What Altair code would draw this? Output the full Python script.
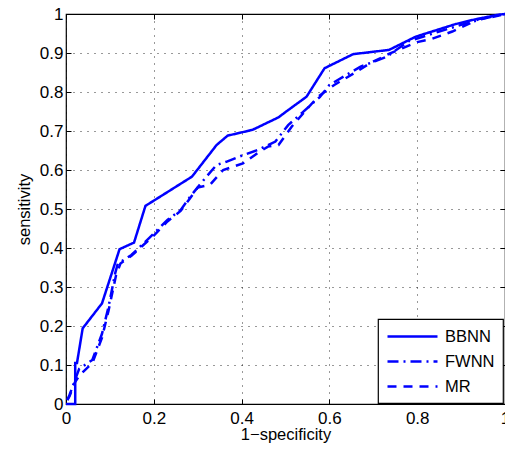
import altair as alt
import pandas as pd

series = ["BBNN", "FWNN", "MR"]

bbnn_x = [0, 0.021, 0.021, 0.025, 0.038, 0.082, 0.122, 0.155, 0.181, 0.239, 0.287, 0.343,
          0.368, 0.425, 0.484, 0.503, 0.548, 0.589, 0.654, 0.736, 0.797, 0.887, 0.931, 0.984, 1.0]
bbnn_y = [0, 0, 0.105, 0.105, 0.194, 0.258, 0.397, 0.414, 0.508, 0.549, 0.583, 0.664,
          0.688, 0.703, 0.735, 0.751, 0.788, 0.861, 0.897, 0.908, 0.942, 0.974, 0.986, 0.998, 1.0]

fwnn_x = [0.003, 0.008, 0.02, 0.03, 0.06, 0.082, 0.097, 0.112, 0.118, 0.149, 0.2, 0.231, 0.261,
          0.283, 0.317, 0.343, 0.365, 0.403, 0.436, 0.477, 0.506, 0.537, 0.578, 0.6, 0.671,
          0.73, 0.78, 0.85, 0.9, 0.95, 1.0]
fwnn_y = [0.01, 0.023, 0.06, 0.09, 0.113, 0.18, 0.25, 0.335, 0.36, 0.382, 0.437, 0.472, 0.497,
          0.532, 0.579, 0.613, 0.621, 0.638, 0.651, 0.673, 0.715, 0.746, 0.787, 0.818, 0.865,
          0.89, 0.93, 0.955, 0.972, 0.988, 1.0]

mr_x = [0.003, 0.008, 0.02, 0.032, 0.06, 0.082, 0.097, 0.114, 0.124, 0.149, 0.2, 0.231, 0.261,
        0.283, 0.3, 0.328, 0.358, 0.403, 0.436, 0.46, 0.484, 0.514, 0.544, 0.574, 0.611, 0.656,
        0.693, 0.738, 0.8, 0.83, 0.88, 0.94, 0.97, 1.0]
mr_y = [0.01, 0.02, 0.055, 0.075, 0.105, 0.17, 0.24, 0.33, 0.36, 0.38, 0.432, 0.468, 0.495,
        0.528, 0.555, 0.562, 0.6, 0.617, 0.643, 0.66, 0.664, 0.711, 0.75, 0.788, 0.818, 0.848,
        0.874, 0.899, 0.928, 0.935, 0.955, 0.987, 0.992, 1.0]

x_ticks = [0, 0.2, 0.4, 0.6, 0.8, 1.0]
y_ticks = [0, 0.1, 0.2, 0.3, 0.4, 0.5, 0.6, 0.7, 0.8, 0.9, 1.0]

rows = []
for name, xs, ys in [("BBNN", bbnn_x, bbnn_y), ("FWNN", fwnn_x, fwnn_y), ("MR", mr_x, mr_y)]:
    for i, (xv, yv) in enumerate(zip(xs, ys)):
        rows.append({"series": name, "fpr": xv, "tpr": yv, "order": i})
df = pd.DataFrame(rows)

FONT = "Liberation Sans"
xscale = alt.Scale(domain=[0, 1], nice=False, zero=False)
yscale = alt.Scale(domain=[0, 1], nice=False, zero=False)

leg = alt.Legend(
    title=None, orient="none", legendX=312, legendY=305,
    symbolType="M-1,0H5.25", symbolSize=256, symbolStrokeWidth=2.5,
    labelFont=FONT, labelFontSize=16.5, labelColor="black", labelOffset=40,
    strokeColor="black", fillColor="white", padding=8, rowPadding=7,
)

lines = alt.Chart(df).mark_line(strokeWidth=2.5).encode(
    x=alt.X("fpr:Q", scale=xscale, axis=alt.Axis(
        orient="bottom", values=x_ticks, format=".1~f", title="1\u2212specificity",
        offset=-5, tickSize=5, labelPadding=6, titlePadding=0, grid=True, domain=False,
        labelFlush=False)),
    y=alt.Y("tpr:Q", scale=yscale, axis=alt.Axis(
        orient="left", values=y_ticks, format=".1~f", title="sensitivity",
        offset=-5, tickSize=5, labelPadding=3, titlePadding=7, grid=True, domain=False,
        labelFlush=False)),
    color=alt.Color("series:N", scale=alt.Scale(domain=series, range=["#0000ff"] * 3), legend=leg),
    strokeDash=alt.StrokeDash("series:N", scale=alt.Scale(
        domain=series, range=[[1, 0], [11, 5, 2, 5], [9, 7]]), legend=leg),
    order="order:Q",
)

frame = alt.Chart(df).mark_line(strokeOpacity=0).encode(
    x=alt.X("fpr:Q", scale=xscale, axis=alt.Axis(
        orient="top", values=x_ticks, labels=False, title=None,
        offset=-5, tickSize=5, grid=False, domain=False)),
    y=alt.Y("tpr:Q", scale=yscale, axis=alt.Axis(
        orient="right", values=y_ticks, labels=False, title=None,
        offset=-5, tickSize=5, grid=False, domain=False)),
    detail="series:N",
)

chart = alt.layer(lines, frame).resolve_axis(x="independent", y="independent").properties(
    width=439, height=390,
    autosize=alt.AutoSizeParams(type="none"),
    padding={"left": 58, "top": 6, "right": 0, "bottom": 40},
).configure_view(stroke="black", strokeWidth=1.2).configure_axis(
    labelFont=FONT, labelFontSize=17, labelColor="black",
    titleFont=FONT, titleFontSize=16.5, titleFontWeight="normal", titleColor="black",
    tickColor="black", tickWidth=1,
    gridColor="black", gridOpacity=0.8, gridDash=[1, 6], gridWidth=1,
).configure_legend(strokeWidth=1.2)

chart.save("out.html", embed_options={"renderer": "svg", "actions": False})
